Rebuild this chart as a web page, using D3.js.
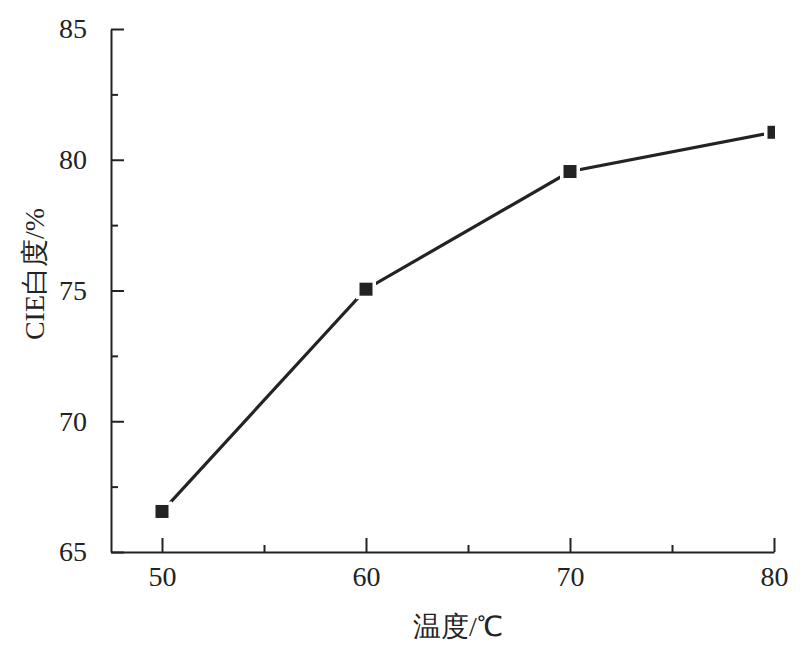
<!DOCTYPE html>
<html><head><meta charset="utf-8">
<script src="https://cdn.jsdelivr.net/npm/d3@7/dist/d3.min.js"></script>
<style>body{margin:0;background:#fff} text{font-family:'Liberation Serif','Times New Roman',serif}</style>
</head><body>
<svg id="c" width="800" height="666"></svg>
<script>
const temps = [50, 60, 70, 80];
const whiteness = [66.55, 75.05, 79.55, 81.05];
const xTicks = [50, 60, 70, 80];
const yTicks = [65, 70, 75, 80, 85];
const xLabel = "温度/℃";
const yLabel = "CIE白度/%";

const svg = d3.select("#c");
const L = 111, R = 774, T = 29, B = 552;
const x = d3.scaleLinear().domain([47.5, 80]).range([L, R]);
const y = d3.scaleLinear().domain([65, 85]).range([B, T]);
const ink = "#232323";
const font = "'Liberation Serif','Times New Roman',serif";

const xMinor = d3.range(55, 80, 10);
const yMinor = d3.range(67.5, 85, 5);

const gx = svg.append("g").attr("transform", `translate(0,${B})`);
gx.call(d3.axisBottom(x).tickValues(xTicks).tickSize(-14).tickPadding(20).tickSizeOuter(0).tickFormat(d3.format("d")));
gx.append("g").call(d3.axisBottom(x).tickValues(xMinor).tickSize(-7).tickFormat("").tickSizeOuter(0))
  .select(".domain").remove();
const gy = svg.append("g").attr("transform", `translate(${L},0)`);
gy.call(d3.axisLeft(y).tickValues(yTicks).tickSize(-13).tickPadding(24).tickSizeOuter(0).tickFormat(d3.format("d")));
gy.append("g").call(d3.axisLeft(y).tickValues(yMinor).tickSize(-7).tickFormat("").tickSizeOuter(0))
  .select(".domain").remove();
svg.selectAll("g").attr("font-family", null);
svg.selectAll(".domain, .tick line").attr("stroke", ink).attr("stroke-width", 2);
svg.selectAll(".tick text").style("font-family", font).attr("font-size", 28).attr("fill", ink);
gx.selectAll(".tick text").attr("dy", "0.5em");

svg.append("defs").append("clipPath").attr("id", "clip")
  .append("rect").attr("x", L).attr("y", 0).attr("width", R - L + 1).attr("height", B);

const pts = temps.map((t, i) => [x(t), y(whiteness[i])]);
const plot = svg.append("g").attr("clip-path", "url(#clip)");
plot.append("path").attr("d", d3.line()(pts)).attr("fill", "none").attr("stroke", ink).attr("stroke-width", 3.2);
plot.selectAll("rect.bg").data(pts).join("rect").attr("class", "bg")
  .attr("x", d => d[0] - 10).attr("y", d => d[1] - 10).attr("width", 20).attr("height", 20).attr("fill", "#fff");
plot.selectAll("rect.m").data(pts).join("rect").attr("class", "m")
  .attr("x", d => d[0] - 6.5).attr("y", d => d[1] - 6.5).attr("width", 13).attr("height", 13).attr("fill", ink);

svg.append("text").attr("x", 458).attr("y", 636).attr("text-anchor", "middle")
  .style("font-family", font).attr("font-size", 28).attr("fill", ink).text(xLabel);
svg.append("text").attr("transform", "translate(44,274) rotate(-90)").attr("text-anchor", "middle")
  .style("font-family", font).attr("font-size", 28).attr("fill", ink).text(yLabel);
</script>
</body></html>
